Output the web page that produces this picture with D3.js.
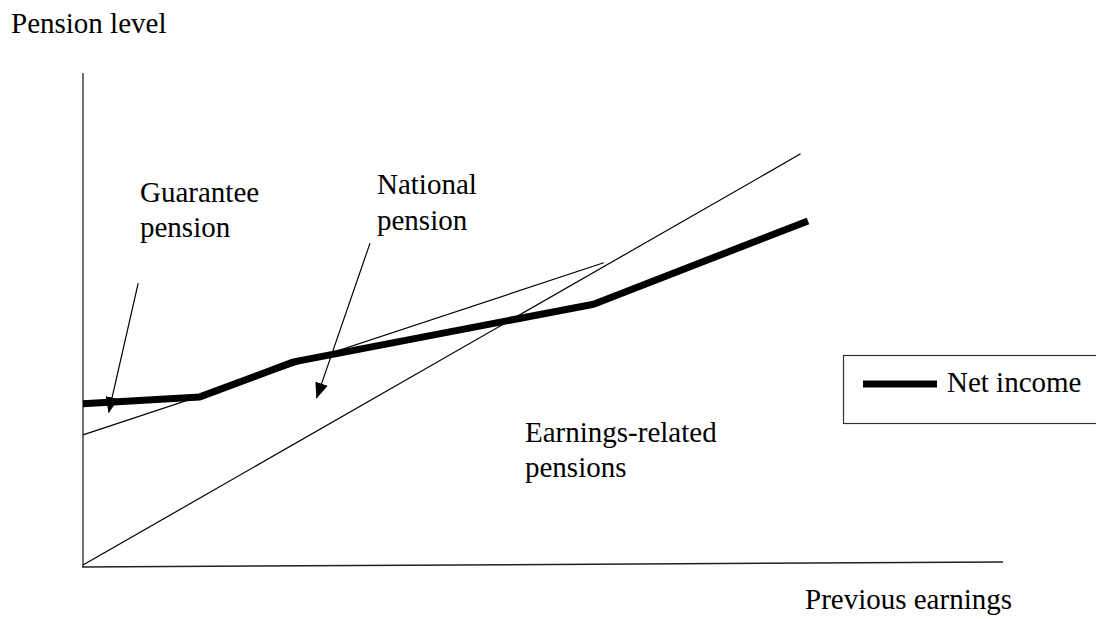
<!DOCTYPE html>
<html>
<head>
<meta charset="utf-8">
<script src="https://cdn.jsdelivr.net/npm/d3@7"></script>
<style>
  html, body { margin: 0; padding: 0; background: #fff; }
  svg { display: block; }
  text { font-family: "Liberation Serif", "Times New Roman", serif; font-size: 29px; fill: #000; }
</style>
</head>
<body>
<svg id="chart" width="1096" height="619"></svg>
<script>
// ---- Data (schematic units: previous earnings 0-100, pension level 0-100) ----
const netIncomeX = [0, 12.7, 22.9, 55.5, 78.8];
const netIncomeY = [32.9, 34.3, 41.4, 53.1, 70.0];

const earningsRelatedX = [0, 78.0];
const earningsRelatedY = [0.2, 83.6];

const nationalPensionX = [0, 56.6];
const nationalPensionY = [26.6, 61.5];

const guaranteeArrowX = [6.0, 2.8];
const guaranteeArrowY = [57.4, 31.2];

const nationalArrowX = [31.2, 25.4];
const nationalArrowY = [65.5, 34.1];

const xAxisX = [-0.1, 100];
const xAxisY = [-0.2, 0.8];
const yAxisX = [0, 0];
const yAxisY = [-0.2, 100];

const labelGuarantee = ["Guarantee", "pension"];
const labelNational = ["National", "pension"];
const labelEarnings = ["Earnings-related", "pensions"];
const yTitle = "Pension level";
const xTitle = "Previous earnings";
const legendLabel = "Net income";

// ---- Scales ----
const svg = d3.select("#chart");
const x = d3.scaleLinear().domain([0, 100]).range([83, 1003]);
const y = d3.scaleLinear().domain([0, 100]).range([566, 73]);

const line = d3.line().x(d => x(d[0])).y(d => y(d[1]));
const zip = (xs, ys) => xs.map((v, i) => [v, ys[i]]);

// arrow marker
svg.append("defs").append("marker")
  .attr("id", "arrow")
  .attr("markerUnits", "userSpaceOnUse")
  .attr("viewBox", "0 -7 16 14")
  .attr("refX", 15).attr("refY", 0)
  .attr("markerWidth", 16).attr("markerHeight", 14)
  .attr("orient", "auto")
  .append("path").attr("d", "M0,-6.5L16,0L0,6.5Z").attr("fill", "#000");

// axes
svg.append("path").datum(zip(yAxisX, yAxisY)).attr("d", line)
  .attr("stroke", "#222").attr("stroke-width", 1.3).attr("fill", "none");
svg.append("path").datum(zip(xAxisX, xAxisY)).attr("d", line)
  .attr("stroke", "#222").attr("stroke-width", 1.5).attr("fill", "none");

// thin lines
svg.append("path").datum(zip(earningsRelatedX, earningsRelatedY)).attr("d", line)
  .attr("stroke", "#000").attr("stroke-width", 1.2).attr("fill", "none");
svg.append("path").datum(zip(nationalPensionX, nationalPensionY)).attr("d", line)
  .attr("stroke", "#000").attr("stroke-width", 1.2).attr("fill", "none");

// net income thick line
svg.append("path").datum(zip(netIncomeX, netIncomeY)).attr("d", line)
  .attr("stroke", "#000").attr("stroke-width", 7).attr("fill", "none")
  .attr("stroke-linejoin", "bevel");

// arrows
[[guaranteeArrowX, guaranteeArrowY], [nationalArrowX, nationalArrowY]].forEach(([ax, ay]) => {
  svg.append("path").datum(zip(ax, ay)).attr("d", line)
    .attr("stroke", "#000").attr("stroke-width", 1.2).attr("fill", "none")
    .attr("marker-end", "url(#arrow)");
});

// labels
function multiLabel(lines, px, py, lh) {
  const t = svg.append("text").attr("x", px).attr("y", py);
  lines.forEach((s, i) => t.append("tspan").attr("x", px).attr("y", py + i * lh).text(s));
}
multiLabel(labelGuarantee, 140, 202, 35);
multiLabel(labelNational, 377, 194, 36);
multiLabel(labelEarnings, 525, 442, 35);

svg.append("text").attr("x", 11).attr("y", 33).text(yTitle);
svg.append("text").attr("x", 805).attr("y", 609).text(xTitle);

// legend
const lg = svg.append("g");
lg.append("rect").attr("x", 843.5).attr("y", 355.5).attr("width", 260).attr("height", 68)
  .attr("fill", "#fff").attr("stroke", "#333").attr("stroke-width", 1.2);
lg.append("line").attr("x1", 863).attr("x2", 937).attr("y1", 384).attr("y2", 384)
  .attr("stroke", "#000").attr("stroke-width", 7);
lg.append("text").attr("x", 947).attr("y", 392).text(legendLabel);
</script>
</body>
</html>
